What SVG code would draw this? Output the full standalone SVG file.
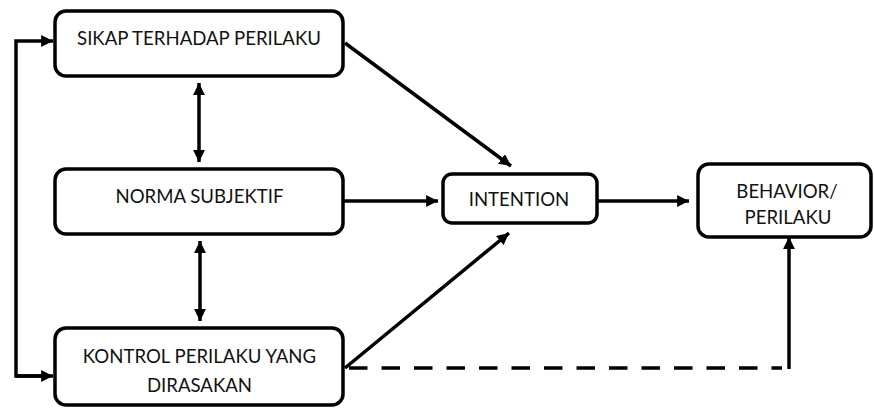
<svg xmlns="http://www.w3.org/2000/svg" width="874" height="408" viewBox="0 0 874 408">
<style>
.box{fill:#fff;stroke:#000;stroke-width:3.5}
.lbl{font-family:Lato,"Open Sans","Liberation Sans",sans-serif;font-size:18.6px;fill:#111;text-anchor:middle}
.ln{fill:none;stroke:#000;stroke-width:3.5}
</style>
<defs>
<marker id="ah" viewBox="0 0 10 10" refX="10" refY="5" markerWidth="3.4" markerHeight="3.4" orient="auto-start-reverse" markerUnits="strokeWidth">
<path d="M0,0 L10,5 L0,10 Z" fill="#000"/>
</marker>
</defs>
<rect width="874" height="408" fill="#fff"/>
<g id="connectors">
<path class="ln" d="M48,376 L16,376 L16,41 L53,41" marker-end="url(#ah)"/>
<path class="ln" d="M16,376 L53,376" marker-end="url(#ah)"/>
<line class="ln" x1="199" y1="83" x2="199" y2="162" marker-start="url(#ah)" marker-end="url(#ah)"/>
<line class="ln" x1="200" y1="241" x2="200" y2="321" marker-start="url(#ah)" marker-end="url(#ah)"/>
<line class="ln" x1="345" y1="43" x2="511" y2="166" marker-end="url(#ah)"/>
<line class="ln" x1="345" y1="368" x2="509" y2="233" marker-end="url(#ah)"/>
<line class="ln" x1="343" y1="201" x2="438" y2="201" marker-end="url(#ah)"/>
<line class="ln" x1="597" y1="201" x2="689" y2="201" marker-end="url(#ah)"/>
<line class="ln" x1="349" y1="368" x2="782" y2="368" stroke-dasharray="18.5 14"/>
<line class="ln" x1="789" y1="369" x2="789" y2="237" marker-end="url(#ah)"/>
</g>
<g id="sikap">
<rect class="box" x="55" y="11" width="288" height="65" rx="11"/>
<text class="lbl" x="199" y="45">SIKAP TERHADAP PERILAKU</text>
</g>
<g id="norma">
<rect class="box" x="55" y="169" width="288" height="65" rx="11"/>
<text class="lbl" x="199.5" y="203">NORMA SUBJEKTIF</text>
</g>
<g id="kontrol">
<rect class="box" x="55" y="328" width="288" height="77" rx="11"/>
<text class="lbl" x="199.5" y="363">KONTROL PERILAKU YANG</text>
<text class="lbl" x="199.5" y="392">DIRASAKAN</text>
</g>
<g id="intention">
<rect class="box" x="443" y="174" width="154" height="49" rx="9"/>
<text class="lbl" x="519" y="206">INTENTION</text>
</g>
<g id="behavior">
<rect class="box" x="698" y="164" width="173" height="73" rx="11"/>
<text class="lbl" x="787" y="198">BEHAVIOR/</text>
<text class="lbl" x="788" y="224">PERILAKU</text>
</g>
</svg>
